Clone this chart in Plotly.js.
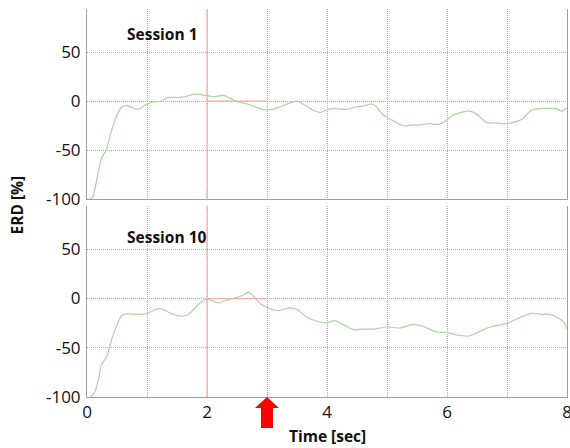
<!DOCTYPE html>
<html>
<head>
<meta charset="utf-8">
<script src="https://cdn.plot.ly/plotly-3.0.1.min.js"></script>
<style>html,body{margin:0;padding:0;background:#fff;}#chart{width:570px;height:448px;}</style>
</head>
<body>
<div id="chart"></div>
<script>
// Session 1 (top panel)
var s1Time = [0.05,0.1,0.16,0.245,0.32,0.41,0.5,0.58,0.66,0.74,0.84,0.99,1.1,1.22,1.36,1.55,1.66,1.8,1.97,2.1,2.27,2.36,2.5,2.66,2.8,2.94,3.08,3.22,3.36,3.5,3.6,3.77,3.88,4.02,4.16,4.33,4.47,4.6,4.75,4.8,4.94,5.1,5.27,5.44,5.55,5.69,5.86,5.97,6.1,6.24,6.38,6.5,6.66,6.83,7.0,7.16,7.27,7.41,7.55,7.72,7.83,7.91,7.97,8.0];
var s1ERD  = [-100,-97.6,-81,-58,-50,-30,-14,-6,-4.4,-6.5,-8.5,-3.4,-1,-0.3,3.7,3.7,5,7,5.8,4.4,5.8,3.7,-0.7,-2.7,-5.8,-8.8,-8.5,-5.8,-2.4,0,-3,-9.2,-11.5,-8.5,-7.8,-8.5,-6.1,-5.1,-3,-4.4,-14.3,-20,-25.2,-24.5,-24.5,-23.1,-23.8,-20.4,-14.3,-11.6,-10.2,-13.6,-21.8,-22.4,-23.1,-20.7,-17.7,-9.2,-7.8,-7.5,-7.8,-10.5,-7.8,-7.5];
// Session 10 (bottom panel)
var s10Time = [0.05,0.12,0.19,0.24,0.33,0.41,0.5,0.58,0.66,0.83,0.99,1.1,1.2,1.3,1.44,1.58,1.69,1.83,1.97,2.08,2.19,2.33,2.47,2.6,2.69,2.77,2.91,3.05,3.19,3.38,3.5,3.66,3.83,4.0,4.13,4.27,4.44,4.6,4.77,5.0,5.22,5.44,5.6,5.83,6.0,6.16,6.38,6.55,6.72,6.91,7.02,7.22,7.41,7.58,7.72,7.88,7.96,8.0];
var s10ERD  = [-99.7,-96,-82.7,-67.3,-58.9,-41.8,-26.5,-17.3,-15.6,-16,-15.3,-12.2,-9.9,-12.2,-16,-18,-16.3,-7.8,-0.7,-2,-4.4,-1.7,0.7,3.4,6.5,2.4,-6.1,-10.5,-12.2,-9.5,-11.2,-18.7,-23.1,-24.8,-22.4,-26.5,-31.6,-31,-31,-28.9,-29.9,-26.2,-28.2,-34,-34.4,-37,-37.8,-33.3,-28.9,-26.5,-24.8,-19.1,-15,-16,-16,-20.7,-25,-31];
// reference markers
var cueX = [2, 2], cueY = [-100, 94];
var baseX = [2, 3], baseY = [0, 0];
var arrowTime = 3;
// ticks
var xTickVals = [0,1,2,3,4,5,6,7,8];
var xTickText = ['0','','2','','4','','6','','8'];
var yTickVals = [-100,-50,0,50];
var yTickText = ['-100','-50','0','50'];
var panelLabels = ['Session 1', 'Session 10'];

var green = '#a8d5a0', pink = '#f8abab';
var traces = [
  {x: cueX, y: cueY, xaxis:'x2', yaxis:'y2', mode:'lines', line:{color:pink, width:1.2}, hoverinfo:'skip'},
  {x: baseX, y: baseY, xaxis:'x2', yaxis:'y2', mode:'lines', line:{color:pink, width:1.2}, hoverinfo:'skip'},
  {x: s1Time, y: s1ERD, xaxis:'x2', yaxis:'y2', mode:'lines', line:{color:green, width:1.2, shape:'spline', smoothing:0.8}},
  {x: cueX, y: cueY, xaxis:'x', yaxis:'y', mode:'lines', line:{color:pink, width:1.2}, hoverinfo:'skip'},
  {x: baseX, y: baseY, xaxis:'x', yaxis:'y', mode:'lines', line:{color:pink, width:1.2}, hoverinfo:'skip'},
  {x: s10Time, y: s10ERD, xaxis:'x', yaxis:'y', mode:'lines', line:{color:green, width:1.2, shape:'spline', smoothing:0.8}}
];

var font = 'Open Sans, Noto Sans, sans-serif';
var gridDash = '1px,1px';
function yax(domain, anchor) {
  return {domain: domain, anchor: anchor, range:[-100, 94], tickvals: yTickVals, ticktext: yTickText,
    showgrid:true, gridcolor:'#a8a8a8', griddash:gridDash, gridwidth:1, zeroline:false,
    showline:true, linecolor:'#a0a0a0', linewidth:1, mirror:true,
    ticks:'', tickfont:{family:font, size:17, color:'#111'}, ticklabelstandoff:2};
}
function xax(anchor, labels) {
  return {anchor: anchor, range:[0, 8], tickvals: xTickVals, ticktext: xTickText,
    showticklabels: labels, showgrid:true, gridcolor:'#a8a8a8', griddash:gridDash, gridwidth:1, zeroline:false,
    showline:true, linecolor:'#a0a0a0', linewidth:1, ticks:'', ticklabeloverflow:'allow',
    tickfont:{family:font, size:17, color:'#111'}};
}
var layout = {
  width:570, height:448, margin:{l:87, r:3, t:9, b:51},
  paper_bgcolor:'#fff', plot_bgcolor:'#fff', showlegend:false,
  xaxis: xax('y', true),
  xaxis2: Object.assign(xax('y2', false), {matches:'x'}),
  yaxis: yax([0, 0.4923], 'x'),
  yaxis2: yax([0.5103, 1], 'x2'),
  annotations: [
    {text:'<b>'+panelLabels[0]+'</b>', x:0.63, y:68, xref:'x2', yref:'y2', xanchor:'left', yanchor:'middle', showarrow:false, font:{family:font, size:15.5, color:'#111'}},
    {text:'<b>'+panelLabels[1]+'</b>', x:0.63, y:63, xref:'x', yref:'y', xanchor:'left', yanchor:'middle', showarrow:false, font:{family:font, size:15.5, color:'#111'}},
    {text:'<b>ERD [%]</b>', x:-0.146, y:0.496, xref:'paper', yref:'paper', xanchor:'center', yanchor:'middle', textangle:-90, showarrow:false, font:{family:font, size:15.5, color:'#111'}},
    {text:'<b>Time [sec]</b>', x:4, y:-0.101, xref:'x', yref:'paper', showarrow:false, xanchor:'center', yanchor:'middle', font:{family:font, size:15.5, color:'#111'}}
  ],
  shapes: [
    {type:'path', xref:'x', yref:'paper', xsizemode:'pixel', ysizemode:'pixel', xanchor: arrowTime, yanchor:0,
     path:'M 0 0 L 12 -11 L 6 -11 L 6 -31 L -6 -31 L -6 -11 L -12 -11 Z', fillcolor:'#ff0000', line:{width:0}, layer:'above'}
  ]
};
Plotly.newPlot('chart', traces, layout, {displayModeBar:false, staticPlot:true});
</script>
</body>
</html>
